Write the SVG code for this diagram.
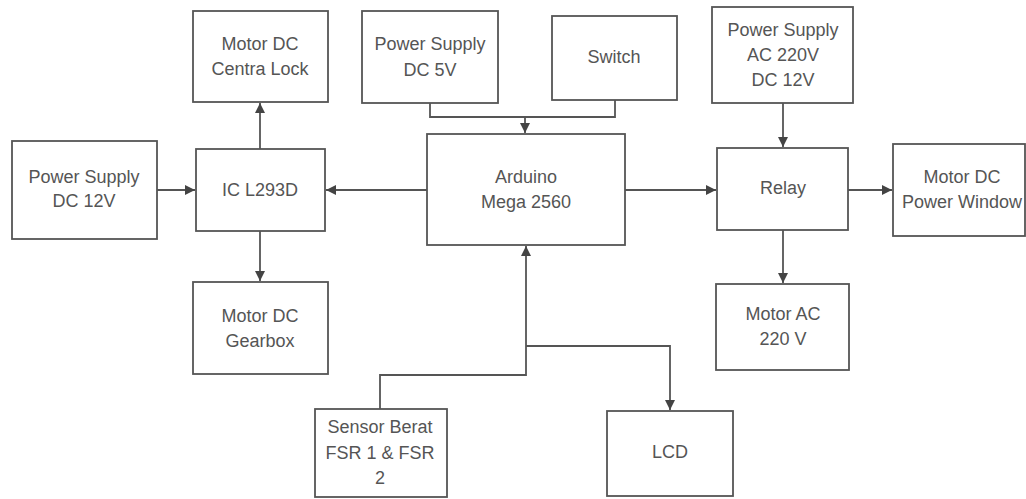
<svg xmlns="http://www.w3.org/2000/svg" width="1026" height="499" viewBox="0 0 1026 499">
<defs>
<marker id="ah" viewBox="0 0 10 10" refX="10" refY="5" markerWidth="10" markerHeight="10" markerUnits="userSpaceOnUse" orient="auto">
<path d="M0,0 L10,5 L0,10 z" fill="#444"/>
</marker>
<style>
.box{fill:#fff;stroke:#555;stroke-width:1.8}
.t{font-family:"Liberation Sans",Arial,sans-serif;font-size:18px;fill:#555;text-anchor:middle}
.c{fill:none;stroke:#555;stroke-width:1.8}
</style>
</defs>
<rect width="1026" height="499" fill="#fff"/>
<g id="connectors">
<line class="c" x1="157" y1="190" x2="195" y2="190" marker-end="url(#ah)"/>
<line class="c" x1="260" y1="149" x2="260" y2="103" marker-end="url(#ah)"/>
<line class="c" x1="260" y1="231" x2="260" y2="281" marker-end="url(#ah)"/>
<line class="c" x1="427" y1="190" x2="326" y2="190" marker-end="url(#ah)"/>
<polyline class="c" points="430,103 430,117 615,117 615,100"/>
<line class="c" x1="525" y1="117" x2="525" y2="133" marker-end="url(#ah)"/>
<line class="c" x1="625" y1="190" x2="716" y2="190" marker-end="url(#ah)"/>
<line class="c" x1="783" y1="103" x2="783" y2="147" marker-end="url(#ah)"/>
<line class="c" x1="848" y1="190" x2="892" y2="190" marker-end="url(#ah)"/>
<line class="c" x1="783" y1="230" x2="783" y2="283" marker-end="url(#ah)"/>
<polyline class="c" points="380,409 380,375 526,375 526,246" marker-end="url(#ah)"/>
<polyline class="c" points="526,346 670,346 670,410" marker-end="url(#ah)"/>
</g>
<g id="ps12">
<rect class="box" x="12" y="141" width="145" height="98"/>
<text class="t" x="84" y="183">Power Supply</text>
<text class="t" x="84" y="207">DC 12V</text>
</g>
<g id="centralock">
<rect class="box" x="193" y="11" width="135" height="91"/>
<text class="t" x="260" y="50">Motor DC</text>
<text class="t" x="260" y="75">Centra Lock</text>
</g>
<g id="ic">
<rect class="box" x="196" y="149" width="129" height="82"/>
<text class="t" x="260" y="196">IC L293D</text>
</g>
<g id="gearbox">
<rect class="box" x="193" y="282" width="135" height="92"/>
<text class="t" x="260" y="322">Motor DC</text>
<text class="t" x="260" y="347">Gearbox</text>
</g>
<g id="ps5">
<rect class="box" x="362" y="11" width="136" height="92"/>
<text class="t" x="430" y="50">Power Supply</text>
<text class="t" x="430" y="76">DC 5V</text>
</g>
<g id="switch">
<rect class="box" x="552" y="16" width="125" height="84"/>
<text class="t" x="614" y="63">Switch</text>
</g>
<g id="arduino">
<rect class="box" x="427" y="134" width="198" height="111"/>
<text class="t" x="526" y="183">Arduino</text>
<text class="t" x="526" y="208">Mega 2560</text>
</g>
<g id="psac">
<rect class="box" x="712" y="7" width="141" height="96"/>
<text class="t" x="783" y="36">Power Supply</text>
<text class="t" x="783" y="61">AC 220V</text>
<text class="t" x="783" y="86">DC 12V</text>
</g>
<g id="relay">
<rect class="box" x="717" y="148" width="131" height="82"/>
<text class="t" x="783" y="194">Relay</text>
</g>
<g id="powerwindow">
<rect class="box" x="893" y="144" width="132" height="92"/>
<text class="t" x="962" y="183">Motor DC</text>
<text class="t" x="962" y="208">Power Window</text>
</g>
<g id="motorac">
<rect class="box" x="716" y="284" width="133" height="86"/>
<text class="t" x="783" y="320">Motor AC</text>
<text class="t" x="783" y="345">220 V</text>
</g>
<g id="sensor">
<rect class="box" x="315" y="409" width="132" height="88"/>
<text class="t" x="380" y="433">Sensor Berat</text>
<text class="t" x="380" y="459">FSR 1 &amp; FSR</text>
<text class="t" x="380" y="484">2</text>
</g>
<g id="lcd">
<rect class="box" x="607" y="411" width="126" height="85"/>
<text class="t" x="670" y="458">LCD</text>
</g>
</svg>
